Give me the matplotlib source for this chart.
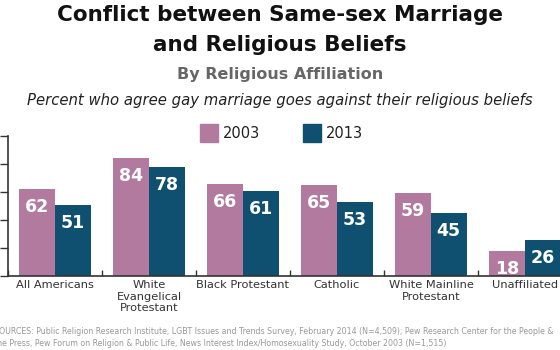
import matplotlib
matplotlib.use("Agg")
import matplotlib.pyplot as plt
import numpy as np

categories = ["All Americans", "White\nEvangelical\nProtestant", "Black Protestant",
              "Catholic", "White Mainline\nProtestant", "Unaffiliated"]
v2003 = [62, 84, 66, 65, 59, 18]
v2013 = [51, 78, 61, 53, 45, 26]
series = ["2003", "2013"]
yticks = [0, 20, 40, 60, 80, 100]

pink = "#B27A9F"
blue = "#0F4F70"
plt.rcParams['font.family'] = ['DejaVu Sans']

W, H = 560, 350
fig = plt.figure(figsize=(5.6, 3.5), dpi=100)
fig.patch.set_facecolor("white")

left = 8 / W
right = 572 / W
bottom = (H - 276) / H
top = (H - 136) / H
ax = fig.add_axes([left, bottom, right - left, top - bottom])

x = np.arange(len(categories))
bw = 0.378
b1 = ax.bar(x - bw / 2, v2003, bw, color=pink, label=series[0])
b2 = ax.bar(x + bw / 2, v2013, bw, color=blue, label=series[1])

for bars, vals in ((b1, v2003), (b2, v2013)):
    for r, v in zip(bars, vals):
        ax.annotate(str(v), (r.get_x() + r.get_width() / 2, v), xytext=(0, -13),
                    textcoords="offset points", ha="center", va="center",
                    color="white", fontsize=12.5, fontweight="bold")

ax.set_xlim(-0.5, len(categories) - 0.5)
ax.set_ylim(0, 100)
ax.set_yticks(yticks)
ax.set_yticklabels([str(t) for t in yticks], fontsize=8, color="#444444")
ax.tick_params(axis="y", direction="out", length=6, width=1, color="#333333", pad=2)
ax.set_xticks(np.arange(len(categories) + 1) - 0.5, minor=False)
ax.set_xticklabels([])
ax.tick_params(axis="x", direction="in", length=4, width=1, color="#333333")
for i, c in enumerate(categories):
    ax.text(i, -2.8, c, ha="center", va="top", fontsize=8.2, color="#333333",
            linespacing=1.2, clip_on=False)

for s in ("top", "right"):
    ax.spines[s].set_visible(False)
for s in ("left", "bottom"):
    ax.spines[s].set_color("#333333")
    ax.spines[s].set_linewidth(1.2)

# Titles
fig.text(280 / W, 1 - 15 / H, "Conflict between Same-sex Marriage", ha="center", va="center",
         fontsize=15.5, fontweight="bold", color="#111111")
fig.text(280 / W, 1 - 45 / H, "and Religious Beliefs", ha="center", va="center",
         fontsize=15.5, fontweight="bold", color="#111111")
fig.text(280 / W, 1 - 75 / H, "By Religious Affiliation", ha="center", va="center",
         fontsize=11.5, fontweight="bold", color="#666666")
fig.text(280 / W, 1 - 101 / H, "Percent who agree gay marriage goes against their religious beliefs",
         ha="center", va="center", fontsize=10.7, style="italic", color="#222222")

# Legend
for sx, col, lab in ((200, pink, series[0]), (303, blue, series[1])):
    fig.patches.append(plt.Rectangle((sx / W, 1 - 142 / H), 18 / W, 18 / H,
                                     transform=fig.transFigure, color=col))
    fig.text((sx + 23) / W, 1 - 133 / H, lab, ha="left", va="center", fontsize=10.5,
             color="#222222")

# Source
src = ("SOURCES: Public Religion Research Institute, LGBT Issues and Trends Survey, February 2014 (N=4,509); "
       "Pew Research Center for the People &\n"
       "the Press, Pew Forum on Religion & Public Life, News Interest Index/Homosexuality Study, October 2003 (N=1,515)")
fig.text(-6 / W, 1 - 337.5 / H, src, ha="left", va="center", fontsize=5.7, color="#999999",
         linespacing=1.4)

fig.savefig("out.png", dpi=100)
